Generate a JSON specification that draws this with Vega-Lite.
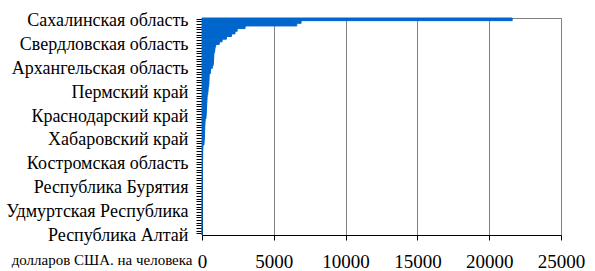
{
  "$schema": "https://vega.github.io/schema/vega-lite/v6.json",
  "width": 359,
  "height": 217,
  "autosize": "none",
  "padding": {"left": 202, "top": 18, "right": 34, "bottom": 36},
  "background": "white",
  "config": {
    "view": {"stroke": "#808080", "strokeWidth": 1},
    "font": "Liberation Serif"
  },
  "data": {
    "values": [
      {"region": "Сахалинская область", "value": 21600},
      {"region": "г. Москва", "value": 6900},
      {"region": "Тюменская область", "value": 6600},
      {"region": "Ленинградская область", "value": 3000},
      {"region": "г. Санкт-Петербург", "value": 2450},
      {"region": "Калужская область", "value": 2300},
      {"region": "Московская область", "value": 2050},
      {"region": "Вологодская область", "value": 1700},
      {"region": "Липецкая область", "value": 1400},
      {"region": "Свердловская область", "value": 1200},
      {"region": "Республика Татарстан", "value": 950},
      {"region": "Новгородская область", "value": 900},
      {"region": "Красноярский край", "value": 880},
      {"region": "Калининградская область", "value": 830},
      {"region": "Оренбургская область", "value": 820},
      {"region": "Самарская область", "value": 810},
      {"region": "Томская область", "value": 800},
      {"region": "Челябинская область", "value": 780},
      {"region": "Архангельская область", "value": 720},
      {"region": "Мурманская область", "value": 600},
      {"region": "Тульская область", "value": 580},
      {"region": "Белгородская область", "value": 500},
      {"region": "Республика Коми", "value": 495},
      {"region": "Нижегородская область", "value": 490},
      {"region": "Иркутская область", "value": 480},
      {"region": "Ярославская область", "value": 470},
      {"region": "Тверская область", "value": 430},
      {"region": "Пермский край", "value": 420},
      {"region": "Владимирская область", "value": 400},
      {"region": "Ростовская область", "value": 360},
      {"region": "Новосибирская область", "value": 350},
      {"region": "Омская область", "value": 340},
      {"region": "Кемеровская область", "value": 330},
      {"region": "Смоленская область", "value": 320},
      {"region": "Республика Карелия", "value": 310},
      {"region": "Приморский край", "value": 300},
      {"region": "Краснодарский край", "value": 290},
      {"region": "Рязанская область", "value": 280},
      {"region": "Республика Башкортостан", "value": 220},
      {"region": "Воронежская область", "value": 210},
      {"region": "Псковская область", "value": 200},
      {"region": "Саратовская область", "value": 190},
      {"region": "Волгоградская область", "value": 185},
      {"region": "Магаданская область", "value": 180},
      {"region": "Орловская область", "value": 170},
      {"region": "Хабаровский край", "value": 165},
      {"region": "Ульяновская область", "value": 150},
      {"region": "Брянская область", "value": 140},
      {"region": "Пензенская область", "value": 60},
      {"region": "Курская область", "value": 55},
      {"region": "Астраханская область", "value": 50},
      {"region": "Тамбовская область", "value": 48},
      {"region": "Ивановская область", "value": 45},
      {"region": "Амурская область", "value": 42},
      {"region": "Костромская область", "value": 40},
      {"region": "Республика Мордовия", "value": 38},
      {"region": "Чувашская Республика", "value": 35},
      {"region": "Республика Саха (Якутия)", "value": 33},
      {"region": "Алтайский край", "value": 30},
      {"region": "Забайкальский край", "value": 28},
      {"region": "Курганская область", "value": 26},
      {"region": "Кировская область", "value": 24},
      {"region": "Ставропольский край", "value": 22},
      {"region": "Республика Бурятия", "value": 20},
      {"region": "Республика Хакасия", "value": 18},
      {"region": "Республика Марий Эл", "value": 16},
      {"region": "Камчатский край", "value": 15},
      {"region": "Республика Адыгея", "value": 14},
      {"region": "Республика Дагестан", "value": 12},
      {"region": "Кабардино-Балкарская Республика", "value": 11},
      {"region": "Республика Северная Осетия - Алания", "value": 10},
      {"region": "Карачаево-Черкесская Республика", "value": 9},
      {"region": "Удмуртская Республика", "value": 8},
      {"region": "Республика Калмыкия", "value": 7},
      {"region": "Еврейская автономная область", "value": 6},
      {"region": "Чукотский автономный округ", "value": 5},
      {"region": "Республика Тыва", "value": 4},
      {"region": "Республика Ингушетия", "value": 3},
      {"region": "Чеченская Республика", "value": 3},
      {"region": "Ханты-Мансийский автономный округ", "value": 2},
      {"region": "Ямало-Ненецкий автономный округ", "value": 1},
      {"region": "Республика Алтай", "value": 1}
    ]
  },
  "mark": {"type": "bar", "color": "#0066CC", "stroke": "#0066CC", "strokeWidth": 1},
  "encoding": {
    "y": {
      "field": "region",
      "type": "nominal",
      "sort": null,
      "scale": {"paddingInner": 0, "paddingOuter": 0},
      "axis": {
        "title": null,
        "domainColor": "black",
        "tickColor": "black",
        "tickSize": 6,
        "labelPadding": 8,
        "labelFont": "Liberation Serif",
        "labelFontSize": 18,
        "labelColor": "black",
        "labelLimit": 400,
        "labelOffset": 2,
        "labelExpr": "indexof(['Сахалинская область','Свердловская область','Архангельская область','Пермский край','Краснодарский край','Хабаровский край','Костромская область','Республика Бурятия','Удмуртская Республика','Республика Алтай'], datum.value) >= 0 ? datum.value : ''"
      }
    },
    "x": {
      "field": "value",
      "type": "quantitative",
      "scale": {"domain": [0, 25000], "nice": false},
      "axis": {
        "values": [0, 5000, 10000, 15000, 20000, 25000],
        "format": "d",
        "grid": true,
        "gridColor": "#808080",
        "gridOpacity": 1,
        "domainColor": "black",
        "tickColor": "black",
        "tickSize": 5,
        "labelPadding": 12,
        "labelFlush": false,
        "labelFont": "Liberation Serif",
        "labelFontSize": 19,
        "labelColor": "black",
        "title": "долларов США. на человека",
        "titleFont": "Liberation Serif",
        "titleFontSize": 15,
        "titleFontWeight": "normal",
        "titleColor": "black",
        "titleAlign": "right",
        "titleAnchor": null,
        "titleBaseline": "alphabetic",
        "titleX": -10,
        "titleY": 29
      }
    }
  }
}
